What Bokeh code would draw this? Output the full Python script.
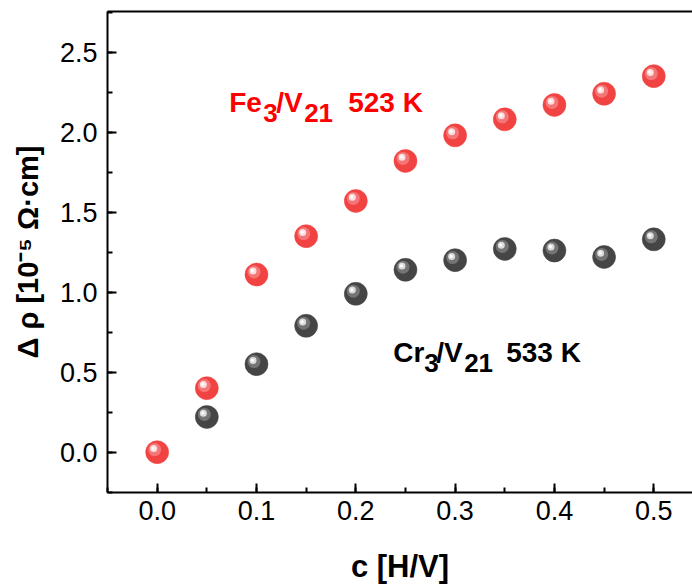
from bokeh.plotting import figure
from bokeh.models import (ColumnDataSource, Label, LinearAxis, SingleIntervalTicker,
                          PrintfTickFormatter, FixedTicker, Range1d)
from bokeh.transform import dodge
from bokeh.embed import file_html
from bokeh.resources import INLINE

# data
c_fe = [0.0, 0.05, 0.10, 0.15, 0.20, 0.25, 0.30, 0.35, 0.40, 0.45, 0.50]
rho_fe = [0.0, 0.40, 1.11, 1.35, 1.57, 1.82, 1.98, 2.08, 2.17, 2.24, 2.35]
c_cr = [0.05, 0.10, 0.15, 0.20, 0.25, 0.30, 0.35, 0.40, 0.45, 0.50]
rho_cr = [0.22, 0.55, 0.79, 0.99, 1.14, 1.20, 1.27, 1.26, 1.22, 1.33]

FONT = "Liberation Sans"

p = figure(width=692, height=586, output_backend="svg", toolbar_location=None,
           x_range=Range1d(-0.05, 0.539), y_range=Range1d(-0.252, 2.754),
           x_axis_type=None, y_axis_type=None,
           min_border_left=107, min_border_right=0, min_border_top=11, min_border_bottom=94)
p.grid.visible = False
p.outline_line_color = None
p.background_fill_color = "white"
p.border_fill_color = "white"

def style_axis(ax):
    ax.axis_line_width = 2
    ax.axis_line_color = "black"
    ax.major_tick_line_width = 2
    ax.minor_tick_line_width = 2
    ax.major_tick_in = 9
    ax.major_tick_out = 0
    ax.minor_tick_in = 5
    ax.minor_tick_out = 0
    ax.major_label_text_font = FONT
    ax.major_label_text_font_size = "27px"
    ax.major_label_text_color = "black"
    ax.axis_label_text_font = FONT
    ax.axis_label_text_font_style = "bold"
    ax.axis_label_text_color = "black"

xax = LinearAxis(ticker=SingleIntervalTicker(interval=0.1, num_minor_ticks=2),
                 formatter=PrintfTickFormatter(format="%.1f"),
                 axis_label="c [H/V]")
style_axis(xax)
xax.major_label_standoff = 8
xax.axis_label_text_font_size = "31px"
xax.axis_label_text_line_height = 1.0
xax.axis_label_standoff = 26
p.add_layout(xax, "below")

yax = LinearAxis(ticker=SingleIntervalTicker(interval=0.5, num_minor_ticks=2),
                 formatter=PrintfTickFormatter(format="%.1f"),
                 axis_label="\u0394 \u03c1 [10\u207b\u2075 \u03a9\u00b7cm]")
style_axis(yax)
yax.major_label_standoff = 10
yax.axis_label_text_font_size = "29px"
yax.axis_label_standoff = 13
p.add_layout(yax, "left")

tax = LinearAxis(ticker=FixedTicker(ticks=[]))
tax.axis_line_width = 2
tax.major_tick_in = 0
tax.major_tick_out = 0
tax.minor_tick_in = 0
tax.minor_tick_out = 0
tax.major_label_text_font_size = "0px"
p.add_layout(tax, "above")

def spheres(xs, ys, base, mid, light):
    src = ColumnDataSource(dict(x=xs, y=ys))
    p.scatter("x", "y", source=src, size=23, fill_color=base, line_color=base, line_width=0.5)
    p.scatter(dodge("x", -0.0025), dodge("y", 0.016), source=src, size=13,
              fill_color=mid, line_color=None, fill_alpha=0.55)
    p.scatter(dodge("x", -0.0035), dodge("y", 0.023), source=src, size=7,
              fill_color=light, line_color=None)
    p.scatter(dodge("x", -0.004), dodge("y", 0.025), source=src, size=3,
              fill_color="white", line_color=None)

spheres(c_cr, rho_cr, "#454545", "#9a9a9a", "#dcdcdc")
spheres(c_fe, rho_fe, "#f24343", "#f8a0a0", "#fcdede")

def lab(text, dx, dy, size, color="black", bold=True):
    p.add_layout(Label(x=0, y=0, x_offset=dx, y_offset=dy, text=text,
                       text_font=FONT, text_font_size=size, text_color=color,
                       text_font_style="bold" if bold else "normal",
                       text_baseline="alphabetic", text_align="left"))

# series labels
red = "#ff0000"
lab("Fe", 72, 350, "28px", red)
lab("3", 106, 339, "26px", red)
lab("/V", 119, 350, "28px", red)
lab("21", 147, 339, "26px", red)
lab("523 K", 191, 350, "28px", red)

lab("Cr", 236, 100, "28px")
lab("3", 267, 89, "26px")
lab("/V", 279, 100, "28px")
lab("21", 307, 89, "26px")
lab("533 K", 349, 100, "28px")

open("out.html", "w").write(file_html(p, INLINE))
